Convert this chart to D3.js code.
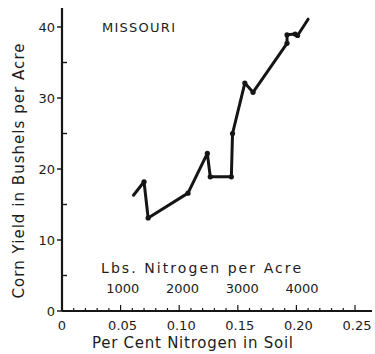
<!DOCTYPE html>
<html><head><meta charset="utf-8">
<script src="https://cdn.jsdelivr.net/npm/d3@7"></script>
<style>
body{margin:0;background:#fff;}
svg text{font-family:"DejaVu Sans",sans-serif;fill:#1c1c1c;}
</style></head>
<body><div id="chart"></div>
<script>
const percentN = [0.061,0.070,0.0735,0.1075,0.124,0.1265,0.1445,0.1455,0.156,0.163,0.192,0.192,0.199,0.201,0.210];
const yieldBu  = [16.3,18.2,13.1,16.6,22.2,18.9,18.9,25.0,32.1,30.8,37.7,38.9,39.0,38.8,41.1];
const xTickLabels = ["0","0.05","0.10","0.15","0.20","0.25"];
const xTickValues = [0,0.05,0.10,0.15,0.20,0.25];
const yTickValues = [0,10,20,30,40];
const lbsTicks = [1000,2000,3000,4000];
const title = "MISSOURI";

const W=375,H=354;
const svg=d3.select("#chart").append("svg").attr("width",W).attr("height",H);
const x=d3.scaleLinear().domain([0,0.25]).range([62,355]);
const y=d3.scaleLinear().domain([0,40]).range([311,27]);
const lbs=d3.scaleLinear().domain([0,4000]).range([63,302]);
const ink="#151515";

// axes lines
svg.append("line").attr("x1",x(0)).attr("x2",372).attr("y1",y(0)).attr("y2",y(0)).attr("stroke",ink).attr("stroke-width",2.2);
svg.append("line").attr("x1",x(0)).attr("x2",x(0)).attr("y1",y(0)).attr("y2",8).attr("stroke",ink).attr("stroke-width",2.2);

// x minor ticks
const xMinor=d3.range(0,0.26,0.01);
svg.selectAll(".xm").data(xMinor).enter().append("line")
 .attr("x1",d=>x(d)).attr("x2",d=>x(d)).attr("y1",y(0)).attr("y2",(d,i)=> i%5===0? y(0)-6 : y(0)-3)
 .attr("stroke",ink).attr("stroke-width",1.2);
svg.selectAll(".xl").data(xTickValues).enter().append("text")
 .attr("x",d=>x(d)+ (d===0?0:2)).attr("y",330).attr("text-anchor","middle").attr("font-size",13)
 .text((d,i)=>xTickLabels[i]);

// y ticks
svg.selectAll(".ym").data(yTickValues).enter().append("line")
 .attr("x1",x(0)-5).attr("x2",x(0)).attr("y1",d=>y(d)).attr("y2",d=>y(d)).attr("stroke",ink).attr("stroke-width",1.4);
svg.selectAll(".yn").data([5,15,25,35]).enter().append("line")
 .attr("x1",x(0)).attr("x2",x(0)+5).attr("y1",d=>y(d)).attr("y2",d=>y(d)).attr("stroke",ink).attr("stroke-width",1.4);
svg.selectAll(".yl").data(yTickValues).enter().append("text")
 .attr("x",x(0)-7).attr("y",d=>y(d)+5).attr("text-anchor","end").attr("font-size",13).text(d=>d);

// lbs labels
svg.append("text").attr("x",201).attr("y",273).attr("text-anchor","middle").attr("font-size",14)
 .attr("textLength",200).attr("lengthAdjust","spacing").text("Lbs. Nitrogen per Acre");
svg.selectAll(".lb").data(lbsTicks).enter().append("text")
 .attr("x",d=>lbs(d)).attr("y",293).attr("text-anchor","middle").attr("font-size",13).text(d=>d);

// axis titles
svg.append("text").attr("x",192.5).attr("y",348).attr("text-anchor","middle").attr("font-size",15)
 .attr("textLength",201).attr("lengthAdjust","spacing").text("Per Cent Nitrogen in Soil");
svg.append("text").attr("transform","translate(24,171) rotate(-90)").attr("text-anchor","middle").attr("font-size",15)
 .attr("textLength",255).attr("lengthAdjust","spacing").text("Corn Yield in Bushels per Acre");

// title
svg.append("text").attr("x",102).attr("y",32).attr("font-size",13)
 .attr("textLength",73).attr("lengthAdjust","spacing").text(title);

// line
const data=percentN.map((p,i)=>({p,v:yieldBu[i]}));
svg.append("path").datum(data).attr("fill","none").attr("stroke",ink).attr("stroke-width",3).attr("stroke-linejoin","round").attr("stroke-linecap","round")
 .attr("d",d3.line().x(d=>x(d.p)).y(d=>y(d.v)));
svg.selectAll(".pt").data(data.slice(1,-1)).enter().append("circle")
 .attr("cx",d=>x(d.p)).attr("cy",d=>y(d.v)).attr("r",2.6).attr("fill",ink);
</script></body></html>
